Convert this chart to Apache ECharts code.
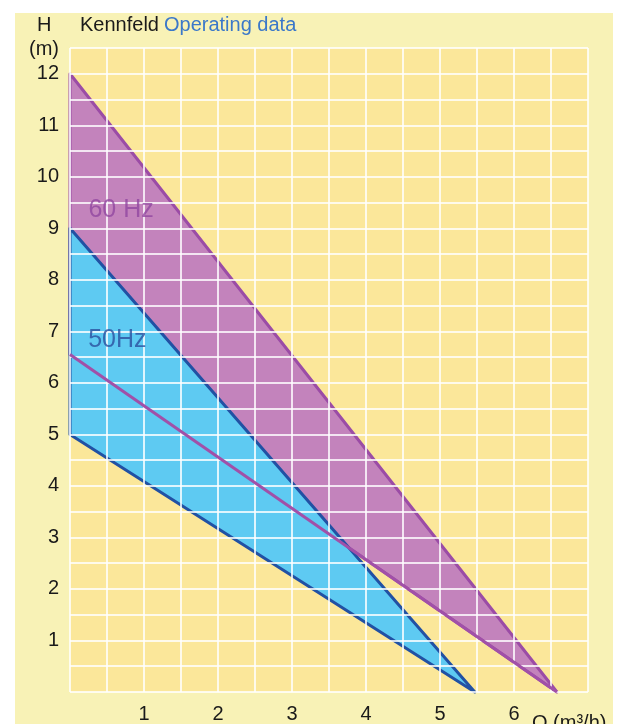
<!DOCTYPE html>
<html>
<head>
<meta charset="utf-8">
<script src="https://cdn.jsdelivr.net/npm/echarts@6/dist/echarts.min.js"></script>
<style>
  html, body { margin: 0; padding: 0; background: #fff; }
  #main { width: 617px; height: 724px; }
</style>
</head>
<body>
<div id="main"></div>
<script>
// Kennfeld: Q (m³/h) gegen H (m)
var hz60Upper = [[0, 12], [6.58, 0]];
var hz60Lower = [[0, 6.55], [6.58, 0]];
var hz50Upper = [[0, 9], [5.47, 0]];
var hz50Lower = [[0, 5], [5.47, 0]];

var xTickLabels = [1, 2, 3, 4, 5, 6];
var yTickLabels = [1, 2, 3, 4, 5, 6, 7, 8, 9, 10, 11, 12];

var hzLabels = [
  { name: '60 Hz', value: [0.69, 9.35], color: '#9147a0' },
  { name: '50Hz', value: [0.64, 6.83], color: '#2b4f9e' }
];

var FONT = '"Liberation Sans", Arial, sans-serif';

// Fläche zwischen oberer und unterer Kennlinie
function region(upper, lower) {
  return upper.concat(lower.slice().reverse());
}

function polygonSeries(pts, fill, stroke, width, z) {
  return {
    type: 'custom',
    z: z,
    silent: true,
    data: pts,
    renderItem: function (params, api) {
      if (params.dataIndex !== 0) return;
      var points = pts.map(function (p) { return api.coord(p); });
      return {
        type: 'polygon',
        shape: { points: points },
        style: { fill: fill, stroke: stroke, lineWidth: width, lineJoin: 'round' }
      };
    }
  };
}

var plainText = { fontSize: 20, fontWeight: 'normal', color: '#1a1a1a', fontFamily: FONT };

var option = {
  backgroundColor: '#fff',
  animation: false,
  graphic: [
    { type: 'rect', z: -10, shape: { x: 15, y: 13, width: 598, height: 711 }, style: { fill: '#f8f2b6' } }
  ],
  title: [
    {
      text: '{a|Kennfeld} {b|Operating data}',
      left: 75, top: 10,
      textStyle: {
        fontWeight: 'normal',
        rich: {
          a: { fontSize: 20, fontWeight: 'normal', color: '#1a1a1a', fontFamily: FONT },
          b: { fontSize: 20, fontWeight: 'normal', color: '#3b78c9', fontFamily: FONT }
        }
      }
    },
    { text: 'H', left: 32, top: 10, textStyle: plainText },
    { text: '(m)', left: 24, top: 34, textStyle: plainText },
    { text: 'Q (m³/h)', left: 527, top: 708, textStyle: plainText }
  ],
  grid: {
    left: 70, right: 29, top: 48, bottom: 26,
    show: true, backgroundColor: '#fbe79a', borderWidth: 0
  },
  xAxis: {
    type: 'value', min: 0, max: 7, interval: 0.5, z: 3,
    axisLine: { show: false }, axisTick: { show: false },
    splitLine: { show: true, lineStyle: { color: 'rgba(255,255,255,0.8)', width: 2 } },
    axisLabel: {
      margin: 12, fontSize: 20, color: '#1a1a1a', fontFamily: FONT,
      formatter: function (v) { return xTickLabels.indexOf(v) >= 0 ? String(v) : ''; }
    }
  },
  yAxis: {
    type: 'value', min: 0, max: 12.5, interval: 0.5, z: 3,
    axisLine: { show: false }, axisTick: { show: false },
    splitLine: { show: true, lineStyle: { color: 'rgba(255,255,255,0.8)', width: 2 } },
    axisLabel: {
      margin: 11, fontSize: 20, color: '#1a1a1a', fontFamily: FONT,
      formatter: function (v) { return yTickLabels.indexOf(v) >= 0 ? String(v) : ''; }
    }
  },
  series: [
    polygonSeries(region(hz60Upper, hz60Lower), '#c383bc', '#9b4ca6', 3, 1),
    polygonSeries(region(hz50Upper, hz50Lower), '#5ecaf2', '#2151a4', 3, 2),
    {
      type: 'line', z: 4, silent: true,
      data: hz60Lower, symbol: 'none',
      lineStyle: { color: '#a150a8', width: 3 }
    },
    {
      type: 'scatter', z: 5, silent: true, symbolSize: 0,
      data: hzLabels.map(function (d) {
        return { name: d.name, value: d.value, label: { color: d.color } };
      }),
      label: {
        show: true, position: 'inside', fontSize: 25, fontFamily: FONT,
        formatter: function (p) { return p.name; }
      }
    }
  ]
};

var myChart = echarts.init(document.getElementById('main'));
myChart.setOption(option);
</script>
</body>
</html>
